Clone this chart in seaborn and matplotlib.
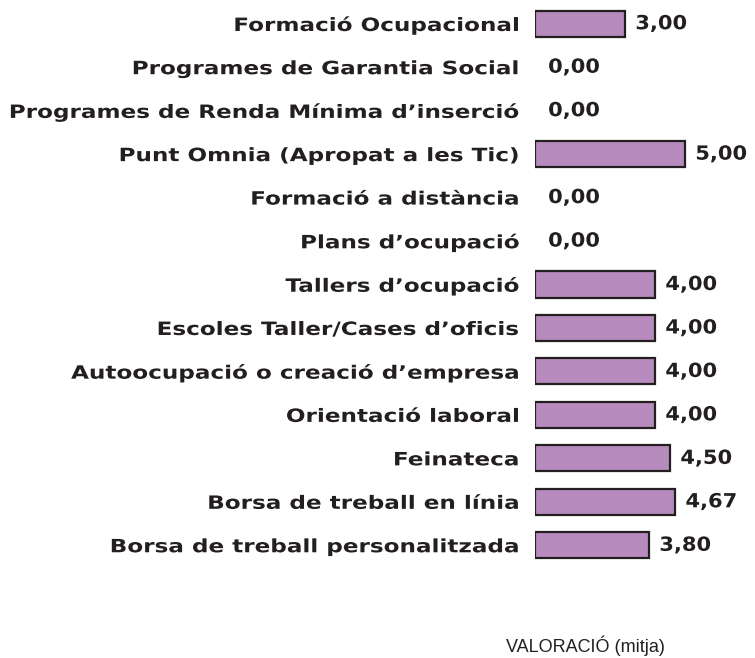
import matplotlib
matplotlib.use("Agg")
import matplotlib.pyplot as plt
from matplotlib.patheffects import AbstractPathEffect
from matplotlib.transforms import Affine2D
import seaborn as sns
import pandas as pd

categories = [
    "Formació Ocupacional",
    "Programes de Garantia Social",
    "Programes de Renda Mínima d’inserció",
    "Punt Omnia (Apropat a les Tic)",
    "Formació a distància",
    "Plans d’ocupació",
    "Tallers d’ocupació",
    "Escoles Taller/Cases d’oficis",
    "Autoocupació o creació d’empresa",
    "Orientació laboral",
    "Feinateca",
    "Borsa de treball en línia",
    "Borsa de treball personalitzada",
]
values = [3.00, 0.00, 0.00, 5.00, 0.00, 0.00, 4.00, 4.00, 4.00, 4.00, 4.50, 4.67, 3.80]
axis_title = "VALORACIÓ (mitja)"

df = pd.DataFrame({"servei": categories, "valor": values})


class Stretch(AbstractPathEffect):
    """Widen text glyphs horizontally about their left or right ink edge."""

    def __init__(self, sx, anchor="left"):
        super().__init__()
        self.sx = sx
        self.anchor = anchor

    def draw_path(self, renderer, gc, tpath, affine, rgbFace=None):
        ext = tpath.get_extents()
        x0 = ext.x1 if self.anchor == "right" else ext.x0
        t = Affine2D().translate(-x0, 0).scale(self.sx, 1).translate(x0, 0) + affine
        renderer.draw_path(gc, tpath, t, rgbFace)


sns.set_theme(style="white")
plt.rcParams["font.family"] = ["DejaVu Sans"]

W, H = 755, 658
fig = plt.figure(figsize=(W / 100, H / 100), dpi=100)
ax = fig.add_axes([535 / W, 1 - 567 / H, 210 / W, 565 / H])

bar_color = "#B88BBF"
dark = "#231F20"

sns.barplot(data=df, x="valor", y="servei", orient="h", color=bar_color,
            edgecolor=dark, linewidth=1.6, width=0.6, saturation=1, ax=ax)

# empty categories get no bar outline
for patch in ax.patches:
    if patch.get_width() == 0:
        patch.set_linewidth(0)

ax.set_xlim(0, 7)
ax.set_ylim(len(categories) - 0.5, -0.5)
ax.set_xlabel("")
ax.set_ylabel("")
ax.set_xticks([])
for s in ax.spines.values():
    s.set_visible(False)
ax.tick_params(axis="y", length=0, pad=11.5)
for lab in ax.get_yticklabels():
    lab.set_fontweight("bold")
    lab.set_fontsize(13.2)
    lab.set_color(dark)
    lab.set_path_effects([Stretch(1.26, anchor="right")])

for i, v in enumerate(values):
    ax.annotate(f"{v:.2f}".replace(".", ","), xy=(v, i),
                xytext=(9.5 if v == 0 else 7.5, 0),
                textcoords="offset points", va="center", ha="left",
                fontsize=14, fontweight="bold", color=dark,
                path_effects=[Stretch(1.08, anchor="left")])

fig.text(585 / W, 1 - 646 / H, axis_title, ha="center", va="center",
         fontsize=13, family="Liberation Sans", color=dark)

fig.savefig("out.png", dpi=100, facecolor="white")
